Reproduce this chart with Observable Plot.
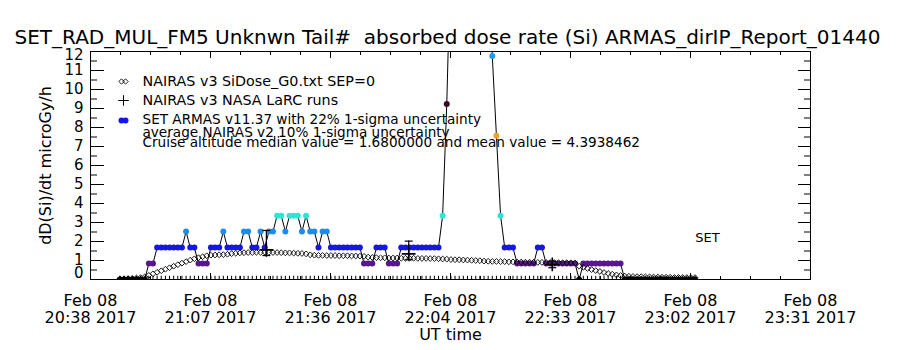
<!DOCTYPE html>
<html><head><meta charset="utf-8">
<script src="https://cdn.jsdelivr.net/npm/d3@7"></script>
<script src="https://cdn.jsdelivr.net/npm/@observablehq/plot@0.6"></script>
<style>
html,body{margin:0;padding:0;background:#fff;}
svg{display:block}
</style></head><body><div id="chart"></div>
<script>
// ---------- texts ----------
const titleText = "SET_RAD_MUL_FM5 Unknwn Tail#  absorbed dose rate (Si) ARMAS_dirIP_Report_01440";
const yLabel = "dD(Si)/dt microGy/h";
const xLabel = "UT time";
const legendLabels = [
  "NAIRAS v3 SiDose_G0.txt SEP=0",
  "NAIRAS v3 NASA LaRC runs",
  "SET ARMAS v11.37 with 22% 1-sigma uncertainty",
  "average NAIRAS v2 10% 1-sigma uncertainty"
];
const cruiseNote = "Cruise altitude median value = 1.6800000 and mean value = 4.3938462";
const setNote = "SET";

// ---------- axes (x in minutes after 20:38 UT) ----------
const xTickMinutes = [0, 29, 58, 87, 116, 145, 174];
const xTickLabels = ["Feb 08\n20:38 2017", "Feb 08\n21:07 2017", "Feb 08\n21:36 2017", "Feb 08\n22:04 2017",
                     "Feb 08\n22:33 2017", "Feb 08\n23:02 2017", "Feb 08\n23:31 2017"];
const yTicks = [0, 1, 2, 3, 4, 5, 6, 7, 8, 9, 10, 11, 12];

// ---------- data ----------
const sampleStartMinute = 7.1;   // first 1-minute sample (minutes after 20:38 UT)
const armasDose = [
  0, 0, 0, 0, 0, 0, 0,
  0.84, 0.84,
  1.68, 1.68, 1.68, 1.68, 1.68, 1.68, 1.68,
  2.52,
  1.68, 1.68,
  0.84, 0.84, 0.84,
  1.68, 1.68, 1.68,
  2.52,
  1.68, 1.68, 1.68, 1.68,
  2.52, 2.52,
  1.68, 1.68,
  2.52,
  1.68,
  2.52, 2.52,
  3.36, 3.36,
  2.52,
  3.36, 3.36, 3.36,
  2.52,
  3.36,
  2.52, 2.52,
  1.68,
  2.52, 2.52,
  1.68, 1.68, 1.68, 1.68, 1.68, 1.68, 1.68, 1.68,
  0.84, 0.84, 0.84,
  1.68, 1.68, 1.68,
  0.84, 0.84, 0.84,
  1.68, 1.68, 1.68, 1.68, 1.68, 1.68, 1.68, 1.68, 1.68, 1.68,
  3.36,
  9.24,
  17.64, 27.72, 35.28, 40.32, 42.00, 39.48, 36.96, 31.92, 27.72, 21.00,
  11.76,
  7.56,
  3.36,
  1.68, 1.68, 1.68,
  0.84, 0.84, 0.84, 0.84, 0.84,
  1.68, 1.68,
  0.84, 0.84, 0.84, 0.84, 0.84, 0.84, 0.84, 0.84,
  0,
  0.84, 0.84, 0.84, 0.84, 0.84, 0.84, 0.84, 0.84, 0.84, 0.84,
  0, 0, 0, 0, 0, 0, 0, 0, 0, 0, 0, 0, 0, 0, 0, 0, 0, 0
];
const nairasDose = [
  0.03, 0.04, 0.05, 0.06, 0.08, 0.10, 0.14,
  0.22, 0.30, 0.38, 0.46, 0.54, 0.62, 0.70, 0.78, 0.86, 0.94, 1.02, 1.09, 1.15, 1.20, 1.25,
  1.28, 1.29, 1.30, 1.31, 1.33,
  1.36, 1.38, 1.40, 1.41, 1.42, 1.42, 1.43, 1.43, 1.44, 1.43, 1.42, 1.42, 1.41, 1.40, 1.40, 1.39, 1.38, 1.37, 1.35,
  1.30, 1.28, 1.27, 1.27, 1.26, 1.26, 1.26, 1.25, 1.25, 1.25, 1.24, 1.24, 1.23, 1.22,
  1.18, 1.16, 1.15, 1.14, 1.14, 1.13, 1.13, 1.13, 1.12, 1.12, 1.12, 1.12, 1.11, 1.11, 1.11, 1.10, 1.10, 1.09, 1.08, 1.07,
  1.05, 1.04, 1.04, 1.03, 1.02, 1.01, 1.00, 0.99,
  0.97, 0.96, 0.95, 0.95, 0.94, 0.94, 0.93, 0.93,
  0.92, 0.92, 0.91, 0.91, 0.91, 0.90, 0.90, 0.90, 0.89, 0.89, 0.89, 0.88, 0.88, 0.88, 0.87,
  0.70, 0.64, 0.58, 0.52, 0.47, 0.42, 0.37, 0.32, 0.28, 0.24, 0.21,
  0.18, 0.17, 0.16, 0.15, 0.15, 0.14, 0.14, 0.13, 0.13, 0.12, 0.12, 0.12, 0.11, 0.11, 0.11, 0.10, 0.10, 0.10
];
const larcMinute = [42.5, 76.9, 111.6];
const larcDose   = [1.56, 1.35, 0.79];
const larcLow    = [1.26, 1.04, 0.62];
const larcHigh   = [2.58, 2.02, 0.96];

// colour of each quantised ARMAS dose level
const doseLevels  = [0, 0.84, 1.68, 2.52, 3.36, 7.56, 9.24, 11.76];
const levelColors = ["#000000", "#58188c", "#1616e8", "#1e8ce8", "#30e4d4", "#f0a030", "#3a0a2a", "#1e9af0"];

// ---------- build ----------
const armas  = armasDose.map((v, i) => ({t: sampleStartMinute + i, v}));
const nairas = nairasDose.map((v, i) => ({t: sampleStartMinute + i, v}));
const larc   = larcMinute.map((t, i) => ({t, v: larcDose[i], lo: larcLow[i], hi: larcHigh[i]}));
const xMinor = d3.range(0, 174.01, 7.25);
const yMinor = d3.range(0.5, 12, 1);

const hbar = {draw(ctx, size) { const w = Math.sqrt(size / Math.PI); ctx.moveTo(-w, 0); ctx.lineTo(w, 0); }};

const F = "DejaVu Sans";
const T = {frameAnchor: "top-left", textAnchor: "start", lineAnchor: "middle"};
const chart = Plot.plot({
  width: 900, height: 350,
  marginTop: 51, marginRight: 90, marginBottom: 71, marginLeft: 90,
  style: {fontFamily: F, background: "#fff", color: "#000", overflow: "visible"},
  x: {domain: [0, 174]},
  y: {domain: [0, 12]},
  color: {type: "ordinal", domain: doseLevels, range: levelColors, unknown: "#888"},
  marks: [
    // axes: inward ticks like the original
    Plot.axisY({ticks: yTicks, tickSize: -14, fill: "none", label: null}),
    Plot.axisY({ticks: yMinor, tickSize: -7, fill: "none", label: null}),
    Plot.axisY({anchor: "right", ticks: yTicks, tickSize: -13, fill: "none", label: null}),
    Plot.axisY({anchor: "right", ticks: yMinor, tickSize: -7, fill: "none", label: null}),
    Plot.axisY({ticks: yTicks.slice(1, 12), tickSize: 0, tickPadding: 7, fontSize: 15, label: null}),
    Plot.axisY({ticks: [12], tickSize: 0, tickPadding: 7, fontSize: 15, dy: 4, label: null}),
    Plot.axisY({ticks: [0], tickSize: 0, tickPadding: 7, fontSize: 15, dy: -6, label: null}),
    Plot.axisX({ticks: xTickMinutes, tickSize: -6, tickPadding: 20, fontSize: 16, lineHeight: 1.08,
                tickFormat: d => xTickLabels[xTickMinutes.indexOf(d)], label: null}),
    Plot.axisX({ticks: xMinor, tickSize: -3, fill: "none", label: null}),
    Plot.axisX({anchor: "top", ticks: xTickMinutes, tickSize: -6, fill: "none", label: null}),
    Plot.axisX({anchor: "top", ticks: xMinor, tickSize: -3, fill: "none", label: null}),
    Plot.frame({stroke: "#000"}),
    // data-time rug at the bottom
    Plot.ruleX(armas, {x: "t", y1: 0, y2: 0.17, stroke: "#000", strokeWidth: 1, clip: true}),
    // ARMAS
    Plot.line(armas, {x: "t", y: "v", stroke: "#000", strokeWidth: 1, clip: true}),
    Plot.dot(armas, {x: "t", y: "v", fill: "v", r: 3, clip: true}),
    // NAIRAS SiDose
    Plot.dot(nairas, {x: "t", y: "v", symbol: "diamond2", r: 2.6, stroke: "#000", strokeWidth: 0.9, clip: true}),
    // NAIRAS LaRC runs with error bars
    Plot.ruleX(larc, {x: "t", y1: "lo", y2: "hi", stroke: "#000", strokeWidth: 1.2}),
    Plot.dot(larc, {x: "t", y: "lo", symbol: hbar, r: 4, stroke: "#000", strokeWidth: 1.2}),
    Plot.dot(larc, {x: "t", y: "hi", symbol: hbar, r: 4, stroke: "#000", strokeWidth: 1.2}),
    Plot.dot(larc, {x: "t", y: "v", symbol: "plus", r: 4.5, stroke: "#000", strokeWidth: 1.6}),
    // legend
    Plot.dot([0], {frameAnchor: "top-left", dx: 31, dy: 30, symbol: "diamond2", r: 2.4, stroke: "#000", strokeWidth: 0.9}),
    Plot.dot([0], {frameAnchor: "top-left", dx: 35, dy: 30, symbol: "diamond2", r: 2.4, stroke: "#000", strokeWidth: 0.9}),
    Plot.dot([0], {frameAnchor: "top-left", dx: 33, dy: 49, symbol: "plus", r: 3.5, stroke: "#000", strokeWidth: 1}),
    Plot.dot([0], {frameAnchor: "top-left", dx: 31, dy: 69, r: 3, fill: levelColors[2]}),
    Plot.dot([0], {frameAnchor: "top-left", dx: 35, dy: 69, r: 3, fill: levelColors[2]}),
    Plot.text([legendLabels[0]], {...T, dx: 52, dy: 30, fontSize: 14.3}),
    Plot.text([legendLabels[1]], {...T, dx: 52, dy: 49, fontSize: 14.3}),
    Plot.text([legendLabels[2]], {...T, dx: 52, dy: 68, fontSize: 13.6}),
    Plot.text([legendLabels[3]], {...T, dx: 52, dy: 81, fontSize: 13.6}),
    Plot.text([cruiseNote], {...T, dx: 52, dy: 91, fontSize: 13.6}),
    Plot.text([setNote], {...T, textAnchor: "middle", dx: 617, dy: 186, fontSize: 13}),
    // titles
    Plot.text([titleText], {frameAnchor: "top", lineAnchor: "middle", textAnchor: "middle", dx: -3, dy: -14, fontSize: 20}),
    Plot.text([yLabel], {frameAnchor: "left", lineAnchor: "middle", textAnchor: "middle", dx: -45, rotate: -90, fontSize: 16}),
    Plot.text([xLabel], {frameAnchor: "bottom", lineAnchor: "middle", textAnchor: "middle", dy: 55, fontSize: 16})
  ]
});
document.getElementById("chart").appendChild(chart);
</script>
</body></html>
